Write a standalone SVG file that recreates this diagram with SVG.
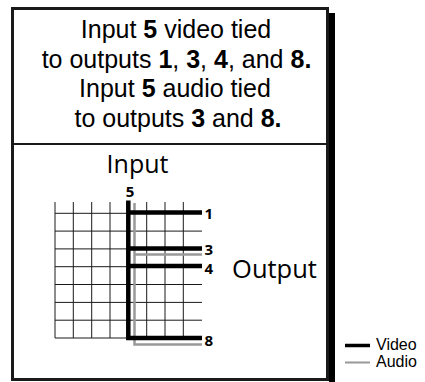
<svg xmlns="http://www.w3.org/2000/svg" width="425" height="382" viewBox="0 0 425 382">
<style>
.t{font-family:"Liberation Sans",Arial,sans-serif;font-size:25px;fill:#000;text-anchor:middle}
.b{font-weight:bold}
.f{font-family:"Open Sans","Noto Sans",sans-serif;fill:#000}
.n{font-family:"Open Sans","Noto Sans",sans-serif;font-weight:bold;font-size:15px;fill:#000}
.grid line{stroke:#1a1a1a;stroke-width:1}
.video{stroke:#000;stroke-width:4.5;fill:none;stroke-linejoin:miter}
.audio{stroke:#999;stroke-width:2.5;fill:none}
.lg{font-family:"Liberation Sans",Arial,sans-serif;font-size:16px;fill:#000}
</style>
<g id="frame">
<rect x="329" y="13" width="6" height="369" fill="#000"/>
<rect x="12.5" y="8.5" width="315" height="371" fill="#fff" stroke="#1a1a1a" stroke-width="3"/>
<line x1="12.5" y1="144" x2="327.5" y2="144" stroke="#1a1a1a" stroke-width="2"/>
</g>
<g id="caption">
<text class="t" x="176" y="38">Input <tspan class="b">5</tspan> video tied</text>
<text class="t" x="176.5" y="68">to outputs <tspan class="b">1</tspan>, <tspan class="b">3</tspan>, <tspan class="b">4</tspan>, and <tspan class="b">8.</tspan></text>
<text class="t" x="175" y="97">Input <tspan class="b">5</tspan> audio tied</text>
<text class="t" x="178" y="127">to outputs <tspan class="b">3</tspan> and <tspan class="b">8.</tspan></text>
</g>
<g id="matrix">
<g class="grid">
<line x1="55" y1="202" x2="55" y2="338"/>
<line x1="73.3" y1="202" x2="73.3" y2="338"/>
<line x1="91.7" y1="202" x2="91.7" y2="338"/>
<line x1="110" y1="202" x2="110" y2="338"/>
<line x1="128.3" y1="202" x2="128.3" y2="338"/>
<line x1="146.7" y1="202" x2="146.7" y2="338"/>
<line x1="165" y1="202" x2="165" y2="338"/>
<line x1="183.3" y1="202" x2="183.3" y2="338"/>
<line x1="55" y1="213.3" x2="202" y2="213.3"/>
<line x1="55" y1="231.1" x2="202" y2="231.1"/>
<line x1="55" y1="248.9" x2="202" y2="248.9"/>
<line x1="55" y1="266.7" x2="202" y2="266.7"/>
<line x1="55" y1="284.5" x2="202" y2="284.5"/>
<line x1="55" y1="302.4" x2="202" y2="302.4"/>
<line x1="55" y1="320.2" x2="202" y2="320.2"/>
<line x1="55" y1="338" x2="202" y2="338"/>
</g>
<text class="f" x="137.5" y="173" font-size="25" text-anchor="middle">Input</text>
<text class="f" x="274.5" y="278" font-size="25.5" text-anchor="middle">Output</text>
<text class="n" x="130" y="197" text-anchor="middle">5</text>
<text class="n" x="204.5" y="218.5">1</text>
<text class="n" x="204.5" y="255">3</text>
<text class="n" x="204.5" y="273.5">4</text>
<text class="n" x="204.5" y="345.5">8</text>
</g>
<g id="connectors">
<path class="audio" d="M134.5,203 V344.5 H202"/>
<path class="audio" d="M134.5,254.5 H202"/>
<path class="video" d="M128.3,200.5 V338 H202"/>
<path class="video" d="M128.3,212.5 H202 M128.3,248.5 H202 M128.3,266 H202"/>
</g>
<g id="legend">
<line x1="345" y1="345.5" x2="370" y2="345.5" stroke="#000" stroke-width="3.5"/>
<line x1="345" y1="362.5" x2="370" y2="362.5" stroke="#999" stroke-width="2"/>
<text class="lg" x="376" y="350">Video</text>
<text class="lg" x="376" y="367">Audio</text>
</g>
</svg>
